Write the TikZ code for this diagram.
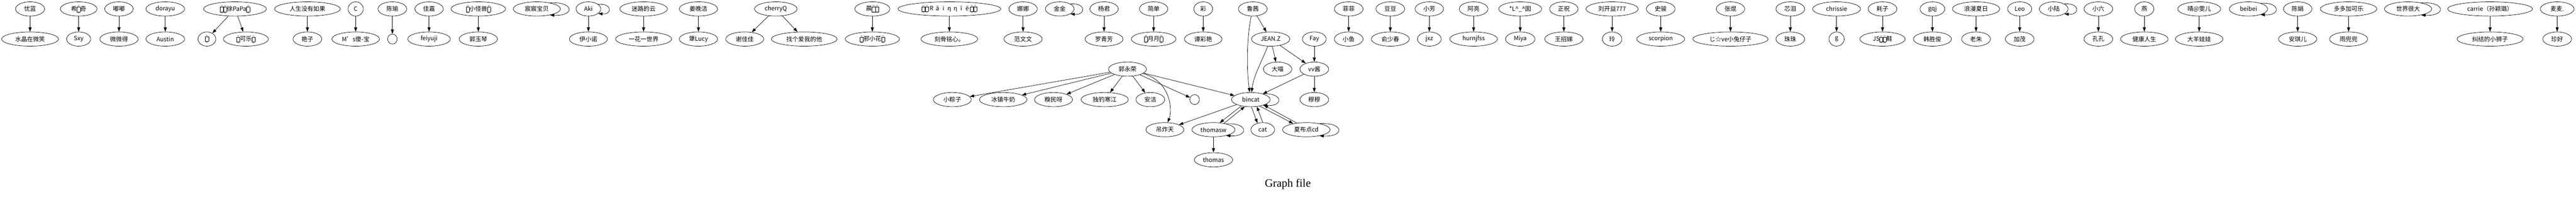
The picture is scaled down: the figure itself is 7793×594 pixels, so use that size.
\documentclass[tikz,border=0pt]{standalone}
\usepackage{fontspec}
\setmainfont{Noto Sans CJK SC}
\newfontfamily\capfont{Liberation Serif}
\usetikzlibrary{shapes.geometric,arrows.meta}
\newcommand\tofu[2]{{\setlength\fboxsep{0.5pt}\setlength\fboxrule{0.6pt}\raisebox{-2pt}{\fbox{\vbox to 13pt{\vss\hbox to 8pt{\hss\fontsize{5}{5.5}\selectfont #1\hss}\hbox to 8pt{\hss\fontsize{5}{5.5}\selectfont #2\hss}\vss}}}}}
\newcommand\fwc[1]{\makebox[18pt]{#1}}
\tikzset{
  nd/.style={ellipse, draw, line width=1.1pt, minimum height=43pt, minimum width=#1pt, inner sep=0pt, font=\fontsize{18}{21}\selectfont},
  arr/.style={line width=1.1pt, -{Triangle[length=13pt,width=9pt]}},
}
\begin{document}
\begin{tikzpicture}[x=1pt,y=-1pt]
\useasboundingbox (0,0) rectangle (7793,594);
% 1
\node[nd=88] (a1) at (91,27) {忧蓝};
\node[nd=172] (b1) at (91,118) {水晶在微笑};
\draw[arr] (a1) -- (b1);
% 2
\node[nd=111] (a2) at (238,27) {希\tofu{00}{00}奇};
\node[nd=73] (b2) at (238,118) {Sxy};
\draw[arr] (a2) -- (b2);
% 3
\node[nd=86] (a3) at (360,27) {嘟嘟};
\node[nd=116] (b3) at (360,118) {微微得};
\draw[arr] (a3) -- (b3);
% 4
\node[nd=117] (a4) at (500,27) {dorayu};
\node[nd=117] (b4) at (500,118) {Austin};
\draw[arr] (a4) -- (b4);
% 5
\node[nd=190] (a5) at (711,27) {\tofu{00}{00}\tofu{00}{00}徐PaPa\tofu{00}{00}};
\node[nd=54] (b5) at (626,118) {\tofu{00}{00}};
\node[nd=136] (c5) at (744,118) {\tofu{27}{28}可乐\tofu{27}{28}};
\draw[arr] (a5) -- (b5);
\draw[arr] (a5) -- (c5);
% 6
\node[nd=199] (a6) at (930,27) {人生没有如果};
\node[nd=87] (b6) at (930,118) {艳子};
\draw[arr] (a6) -- (b6);
% 7
\node[nd=46] (a7) at (1076,27) {C};
\node[nd=144] (b7) at (1076,118) {M's傻-宝};
\draw[arr] (a7) -- (b7);
% 8
\node[nd=87] (a8) at (1187,27) {陈瑜};
\node[nd=29, minimum height=30pt] (b8) at (1187,118) {};
\draw[arr] (a8) -- (b8);
% 9
\node[nd=86] (a9) at (1298,27) {佳嘉};
\node[nd=129] (b9) at (1298,118) {feiyuji};
\draw[arr] (a9) -- (b9);
% 10
\node[nd=165] (a10) at (1447,27) {\tofu{00}{00}小怪兽\tofu{00}{00}};
\node[nd=116] (b10) at (1447,118) {郭玉琴};
\draw[arr] (a10) -- (b10);
% 11
\node[nd=143] (a11) at (1624,27) {宸宸宝贝};
\draw[arr] (a11.25) .. controls +(75.7,-4) and +(75.7,4) .. (a11.-25);
% 12
\node[nd=75] (a12) at (1780,27) {Aki};
\node[nd=115] (b12) at (1780,118) {伊小诺};
\draw[arr] (a12.25) .. controls +(43.2,-4) and +(43.2,4) .. (a12.-25);
\draw[arr] (a12) -- (b12);
% 13
\node[nd=144] (a13) at (1947,27) {迷路的云};
\node[nd=170] (b13) at (1947,118) {一花一世界};
\draw[arr] (a13) -- (b13);
% 14
\node[nd=116] (a14) at (2113,27) {姜晚洁};
\node[nd=116] (b14) at (2113,118) {犟Lucy};
\draw[arr] (a14) -- (b14);
% 15
\node[nd=129] (a15) at (2347,27) {cherryQ};
\node[nd=115] (b15) at (2253,118) {谢佳佳};
\node[nd=199] (c15) at (2433,118) {找个爱我的他};
\draw[arr] (a15) -- (b15);
\draw[arr] (a15) -- (c15);
% 16
\node[nd=106] (a16) at (2639,27) {晨\tofu{E4}{37}\tofu{E4}{37}};
\node[nd=164] (b16) at (2639,118) {\tofu{00}{00}邪小花\tofu{00}{00}};
\draw[arr] (a16) -- (b16);
% 17
\node[nd=311] (a17) at (2872,27) {\tofu{E1}{0E}\tofu{E3}{1C}\fwc{R}\fwc{ā}\fwc{i}\fwc{η}\fwc{η}\fwc{ī}\fwc{ē}\tofu{E3}{14}\tofu{E4}{1C}};
\node[nd=172] (b17) at (2872,118) {刻骨铭心。};
\draw[arr] (a17) -- (b17);
% 18
\node[nd=86] (a18) at (3095,27) {娜娜};
\node[nd=116] (b18) at (3095,118) {范文文};
\draw[arr] (a18) -- (b18);
% 19
\node[nd=87] (a19) at (3206,27) {金金};
\draw[arr] (a19.25) .. controls +(47.9,-4) and +(47.9,4) .. (a19.-25);
% 20
\node[nd=86] (a20) at (3340,27) {杨君};
\node[nd=115] (b20) at (3340,118) {罗青芳};
\draw[arr] (a20) -- (b20);
% 21
\node[nd=86] (a21) at (3490,27) {简单};
\node[nd=135] (b21) at (3490,118) {\tofu{00}{00}月月\tofu{00}{00}};
\draw[arr] (a21) -- (b21);
% 22
\node[nd=57] (a22) at (3640,27) {彩};
\node[nd=114] (b22) at (3640,118) {谭彩艳};
\draw[arr] (a22) -- (b22);
% big component
\node[nd=87] (luqian) at (3790,27) {鲁茜};
\node[nd=116] (jeanz) at (3844,118) {JEAN.Z};
\node[nd=72] (fay) at (3976,118) {Fay};
\node[nd=115] (gyr) at (3411,209) {郭永荣};
\node[nd=86] (damiao) at (3865,209) {大喵};
\node[nd=87] (vvj) at (3976,209) {vv酱};
\node[nd=115] (xzz) at (2881,301) {小粽子};
\node[nd=144] (bzn) at (3035,301) {冰镇牛奶};
\node[nd=115] (qmy) at (3187,301) {糗民呀};
\node[nd=143] (ddhj) at (3342,301) {独钓寒江};
\node[nd=87] (anjie) at (3480,301) {安洁};
\node[nd=29, minimum height=30pt] (emp) at (3614,301) {};
\node[nd=117] (bincat) at (3784,301) {bincat};
\node[nd=87] (mumu) at (3976,301) {穆穆};
\node[nd=115] (dzt) at (3524,392) {吊炸天};
\node[nd=130] (thomasw) at (3671,392) {thomasw};
\node[nd=72] (cat) at (3820,392) {cat};
\node[nd=144] (xbd) at (3952,392) {夏布点cd};
\node[nd=116] (thomas) at (3671,483) {thomas};
\draw[arr] (gyr) -- (xzz);
\draw[arr] (gyr) -- (bzn);
\draw[arr] (gyr) -- (qmy);
\draw[arr] (gyr) -- (ddhj);
\draw[arr] (gyr) -- (anjie);
\draw[arr] (gyr) -- (emp);
\draw[arr] (gyr) -- (bincat);
\draw[arr] (gyr) .. controls (3540,245) and (3548,330) .. (dzt);
\draw[arr] (luqian) .. controls (3770,120) and (3772,220) .. (bincat);
\draw[arr] (luqian) -- (jeanz);
\draw[arr] (jeanz) .. controls (3815,190) and (3792,230) .. (bincat);
\draw[arr] (jeanz) -- (damiao);
\draw[arr] (jeanz) -- (vvj);
\draw[arr] (fay) -- (vvj);
\draw[arr] (vvj) -- (bincat);
\draw[arr] (vvj) -- (mumu);
\draw[arr] (bincat.25) .. controls +(61.7,-4) and +(61.7,4) .. (bincat.-25);
\draw[arr] (bincat) -- (dzt);
\draw[arr] (bincat.214) -- (thomasw.48);
\draw[arr] (thomasw.31) -- (bincat.229);
\draw[arr] (bincat.275) -- (cat.129);
\draw[arr] (cat.90) -- (bincat.311);
\draw[arr] (bincat.324) -- (xbd.155);
\draw[arr] (xbd.145) -- (bincat.337);
\draw[arr] (thomasw.25) .. controls +(68.5,-4) and +(68.5,4) .. (thomasw.-25);
\draw[arr] (xbd.25) .. controls +(76.3,-4) and +(76.3,4) .. (xbd.-25);
\draw[arr] (thomasw) -- (thomas);
% 24
\node[nd=87] (a24) at (4080,27) {菲菲};
\node[nd=87] (b24) at (4080,118) {小鱼};
\draw[arr] (a24) -- (b24);
% 25
\node[nd=87] (a25) at (4206,27) {豆豆};
\node[nd=115] (b25) at (4206,118) {俞少春};
\draw[arr] (a25) -- (b25);
% 26
\node[nd=86] (a26) at (4324,27) {小芳};
\node[nd=72] (b26) at (4324,118) {jxz};
\draw[arr] (a26) -- (b26);
% 27
\node[nd=87] (a27) at (4458,27) {阿亮};
\node[nd=144] (b27) at (4458,118) {hurnjfss};
\draw[arr] (a27) -- (b27);
% 28
\node[nd=130] (a28) at (4599,27) {*L\textasciicircum\_\textasciicircum 囡};
\node[nd=89] (b28) at (4599,118) {Miya};
\draw[arr] (a28) -- (b28);
% 29
\node[nd=86] (a29) at (4731,27) {正祝};
\node[nd=116] (b29) at (4731,118) {王招娣};
\draw[arr] (a29) -- (b29);
% 30
\node[nd=158] (a30) at (4877,27) {刘开益777};
\node[nd=59] (b30) at (4877,118) {玲};
\draw[arr] (a30) -- (b30);
% 31
\node[nd=87] (a31) at (5024,27) {史骏};
\node[nd=145] (b31) at (5024,118) {scorpion};
\draw[arr] (a31) -- (b31);
% 32
\node[nd=86] (a32) at (5235,27) {张焜};
\node[nd=228] (b32) at (5235,118) {じ☆ve小兔仔子};
\draw[arr] (a32) -- (b32);
% 33
\node[nd=87] (a33) at (5416,27) {芯泪};
\node[nd=87] (b33) at (5416,118) {珠珠};
\draw[arr] (a33) -- (b33);
% 34
\node[nd=145] (a34) at (5556,27) {chrissie};
\node[nd=46] (b34) at (5556,118) {g};
\draw[arr] (a34) -- (b34);
% 35
\node[nd=87] (a35) at (5695,27) {耗子};
\node[nd=137] (b35) at (5695,118) {JS\tofu{00}{00}\tofu{00}{00}鞋};
\draw[arr] (a35) -- (b35);
% 36
\node[nd=75] (a36) at (5846,27) {gqj};
\node[nd=115] (b36) at (5846,118) {韩胜俊};
\draw[arr] (a36) -- (b36);
% 37
\node[nd=143] (a37) at (5978,27) {浪漫夏日};
\node[nd=87] (b37) at (5978,118) {老朱};
\draw[arr] (a37) -- (b37);
% 38
\node[nd=73] (a38) at (6110,27) {Leo};
\node[nd=87] (b38) at (6110,118) {加茂};
\draw[arr] (a38) -- (b38);
% 39
\node[nd=87] (a39) at (6213,27) {小陆};
\draw[arr] (a39.25) .. controls +(47.9,-4) and +(47.9,4) .. (a39.-25);
% 40
\node[nd=87] (a40) at (6348,27) {小六};
\node[nd=87] (b40) at (6348,118) {孔孔};
\draw[arr] (a40) -- (b40);
% 41
\node[nd=58] (a41) at (6487,27) {燕};
\node[nd=144] (b41) at (6487,118) {健康人生};
\draw[arr] (a41) -- (b41);
% 42
\node[nd=130] (a42) at (6653,27) {晴@雯儿};
\node[nd=144] (b42) at (6653,118) {大羊娃娃};
\draw[arr] (a42) -- (b42);
% 43
\node[nd=116] (a43) at (6802,27) {beibei};
\draw[arr] (a43.25) .. controls +(61.3,-4) and +(61.3,4) .. (a43.-25);
% 44
\node[nd=86] (a44) at (6951,27) {陈娟};
\node[nd=116] (b44) at (6951,118) {安琪儿};
\draw[arr] (a44) -- (b44);
% 45
\node[nd=171] (a45) at (7105,27) {多多加可乐};
\node[nd=115] (b45) at (7105,118) {雨兜兜};
\draw[arr] (a45) -- (b45);
% 46
\node[nd=143] (a46) at (7285,27) {世界很大};
\draw[arr] (a46.25) .. controls +(75.7,-4) and +(75.7,4) .. (a46.-25);
% 47
\node[nd=257] (a47) at (7533,27) {carrie（孙颖璐）};
\node[nd=200] (b47) at (7533,118) {纠结的小狮子};
\draw[arr] (a47) -- (b47);
% 48
\node[nd=102] (a48) at (7736,27) {麦麦.};
\node[nd=87] (b48) at (7736,118) {珍好};
\draw[arr] (a48) -- (b48);
% caption
\node[font=\capfont\fontsize{34}{40}\selectfont, inner sep=0pt] (cap) at (3896,557) {Graph file};
\end{tikzpicture}
\end{document}
